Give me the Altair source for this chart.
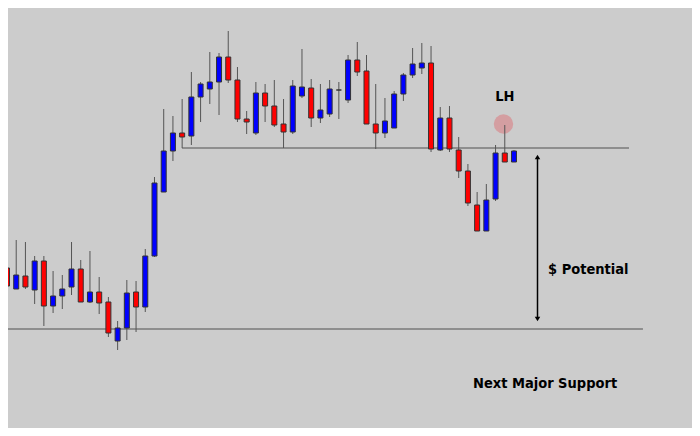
import altair as alt
import pandas as pd

# ---- candle data (bar index 1..56) ----
opens = [1.3060, 1.3039, 1.3052, 1.3038, 1.3067, 1.3022, 1.3032, 1.3041, 1.3059, 1.3026,
         1.3036, 1.3026, 1.2987, 1.3000, 1.3036, 1.3021, 1.3072, 1.3136, 1.3177, 1.3195,
         1.3192, 1.3231, 1.3239, 1.3246, 1.3271, 1.3248, 1.3209, 1.3195, 1.3235, 1.3222,
         1.3204, 1.3196, 1.3232, 1.3240, 1.3210, 1.3214, 1.3238, 1.3228, 1.3268, 1.3257,
         1.3204, 1.3195, 1.3200, 1.3234, 1.3253, 1.3260, 1.3265, 1.3178, 1.3210, 1.3178,
         1.3157, 1.3123, 1.3097, 1.3129, 1.3175, 1.3166]
closes = [1.3042, 1.3053, 1.3041, 1.3067, 1.3022, 1.3032, 1.3039, 1.3059, 1.3026, 1.3036,
          1.3025, 1.2995, 1.3000, 1.3035, 1.3021, 1.3072, 1.3145, 1.3177, 1.3195, 1.3191,
          1.3231, 1.3244, 1.3246, 1.3271, 1.3248, 1.3209, 1.3206, 1.3235, 1.3222, 1.3203,
          1.3196, 1.3242, 1.3241, 1.3210, 1.3218, 1.3239, 1.3238, 1.3268, 1.3256, 1.3204,
          1.3195, 1.3207, 1.3234, 1.3253, 1.3264, 1.3265, 1.3179, 1.3210, 1.3179, 1.3157,
          1.3125, 1.3097, 1.3128, 1.3175, 1.3166, 1.3177]
highs = [1.3066, 1.3088, 1.3086, 1.3072, 1.3072, 1.3057, 1.3053, 1.3086, 1.3068, 1.3077,
         1.3051, 1.3031, 1.3007, 1.3048, 1.3047, 1.3079, 1.3151, 1.3219, 1.3212, 1.3229,
         1.3256, 1.3246, 1.3276, 1.3275, 1.3297, 1.3261, 1.3217, 1.3246, 1.3244, 1.3248,
         1.3229, 1.3248, 1.3279, 1.3249, 1.3244, 1.3248, 1.3246, 1.3273, 1.3286, 1.3273,
         1.3244, 1.3230, 1.3237, 1.3255, 1.3280, 1.3285, 1.3282, 1.3221, 1.3222, 1.3191,
         1.3164, 1.3136, 1.3144, 1.3183, 1.3203, 1.3178]
lows = [1.3020, 1.3039, 1.3039, 1.3024, 1.3002, 1.3015, 1.3019, 1.3033, 1.3026, 1.3025,
        1.3014, 1.2991, 1.2978, 1.2988, 1.2996, 1.3016, 1.3071, 1.3136, 1.3167, 1.3180,
        1.3183, 1.3206, 1.3224, 1.3213, 1.3245, 1.3206, 1.3194, 1.3193, 1.3206, 1.3201,
        1.3180, 1.3194, 1.3230, 1.3201, 1.3205, 1.3211, 1.3209, 1.3225, 1.3252, 1.3204,
        1.3179, 1.3190, 1.3200, 1.3227, 1.3250, 1.3254, 1.3176, 1.3177, 1.3176, 1.3150,
        1.3122, 1.3097, 1.3097, 1.3127, 1.3166, 1.3166]

# ---- annotation data ----
level_prices = [1.3180, 1.2999]
level_start = [19.98, 0.675]
level_end = [68.48, 69.99]
arrow_idx = [58.55]
arrow_top = [1.3171]
arrow_bottom = [1.3009]
circle_idx = [54.86]
circle_price = [1.3204]
label_texts = ["LH", "$ Potential", "Next Major Support"]
label_idx = [55.0, 59.69, 51.55]
label_price = [1.3227, 1.3054, 1.2940]
label_align = ["center", "left", "left"]

n = len(opens)
df = pd.DataFrame({
    "idx": list(range(1, n + 1)),
    "open": opens, "close": closes, "high": highs, "low": lows,
})
df["dir"] = ["up" if c > o else ("down" if c < o else "doji") for o, c in zip(opens, closes)]

xs = alt.Scale(domain=[1.1085, 75.31], nice=False, zero=False, padding=0)
ys = alt.Scale(domain=[1.2900, 1.3320], nice=False, zero=False, padding=0)
FONT = "DejaVu Sans Condensed, DejaVu Sans, sans-serif"

base = alt.Chart(df)

wicks = base.mark_rule(color="#555555", strokeWidth=1).encode(
    x=alt.X("idx:Q", scale=xs, axis=None),
    y=alt.Y("low:Q", scale=ys, axis=None),
    y2="high:Q",
)
bodies = base.mark_bar(size=5, stroke="#333333", strokeWidth=1).encode(
    x=alt.X("idx:Q", scale=xs, axis=None),
    y=alt.Y("open:Q", scale=ys, axis=None),
    y2="close:Q",
    color=alt.Color("dir:N", scale=alt.Scale(domain=["up", "down", "doji"],
                                             range=["#0000ff", "#ff0000", "#222222"]), legend=None),
)

levels_df = pd.DataFrame({"p": level_prices, "s": level_start, "e": level_end})
levels = alt.Chart(levels_df).mark_rule(color="#7a7a7a", strokeWidth=1.6).encode(
    x=alt.X("s:Q", scale=xs, axis=None), x2="e:Q",
    y=alt.Y("p:Q", scale=ys, axis=None),
)

arrow_df = pd.DataFrame({"i": arrow_idx, "t": arrow_top, "b": arrow_bottom})
shaft = alt.Chart(arrow_df).mark_rule(color="#000000", strokeWidth=1.5).encode(
    x=alt.X("i:Q", scale=xs, axis=None),
    y=alt.Y("t:Q", scale=ys, axis=None), y2="b:Q",
)
head_up = alt.Chart(arrow_df).mark_point(shape="triangle-up", filled=True, color="#000000",
                                         size=30, opacity=1).encode(
    x=alt.X("i:Q", scale=xs, axis=None),
    y=alt.Y("t:Q", scale=ys, axis=None),
)
head_down = alt.Chart(arrow_df).mark_point(shape="triangle-down", filled=True, color="#000000",
                                           size=30, opacity=1).encode(
    x=alt.X("i:Q", scale=xs, axis=None),
    y=alt.Y("b:Q", scale=ys, axis=None),
)

circle_df = pd.DataFrame({"i": circle_idx, "p": circle_price})
circle = alt.Chart(circle_df).mark_point(shape="circle", filled=True, color="#d49ea1",
                                         size=376, opacity=1).encode(
    x=alt.X("i:Q", scale=xs, axis=None),
    y=alt.Y("p:Q", scale=ys, axis=None),
)

labels_df = pd.DataFrame({"t": label_texts, "i": label_idx, "p": label_price, "a": label_align})
label_layers = []
for al in ["center", "left"]:
    label_layers.append(
        alt.Chart(labels_df).transform_filter(alt.datum.a == al).mark_text(
            align=al, baseline="alphabetic", font=FONT, fontSize=14.5, fontWeight="bold",
            color="#000000").encode(
            x=alt.X("i:Q", scale=xs, axis=None),
            y=alt.Y("p:Q", scale=ys, axis=None),
            text="t:N",
        )
    )

chart = alt.layer(levels, circle, wicks, bodies, shaft, head_up, head_down, *label_layers).properties(
    width=684, height=420, padding=0, background="#cccccc",
    autosize=alt.AutoSizeParams(type="none"),
).configure_view(stroke=None, fill="#cccccc")

chart.save("out.html", embed_options={"renderer": "svg", "actions": False})
